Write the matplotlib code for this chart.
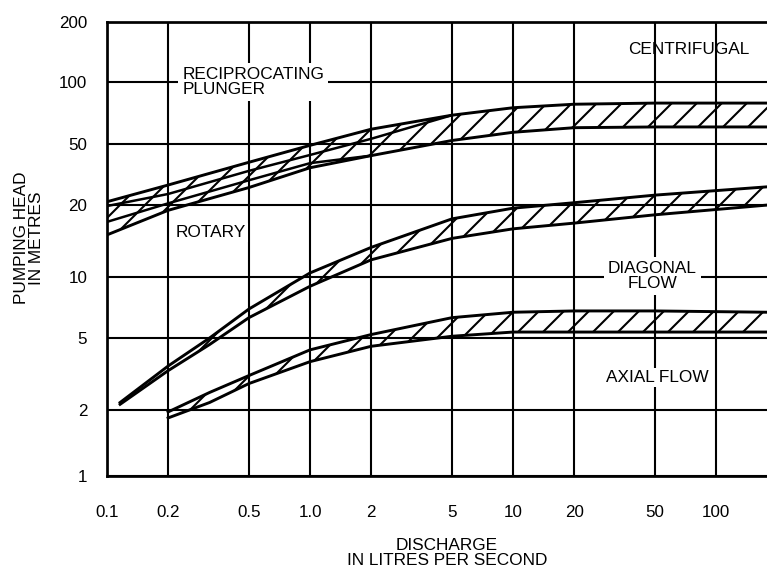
import numpy as np
import matplotlib
matplotlib.use('Agg')
import matplotlib.pyplot as plt
from matplotlib.ticker import FixedLocator, NullLocator

# Axis ticks (discharge in L/s, head in m)
x_ticks = [0.1, 0.2, 0.5, 1, 2, 5, 10, 20, 50, 100]
x_tick_labels = ['0.1', '0.2', '0.5', '1.0', '2', '5', '10', '20', '50', '100']
y_ticks = [1, 2, 5, 10, 20, 50, 100, 200]
y_tick_labels = ['1', '2', '5', '10', '20', '50', '100', '200']

# Reciprocating plunger / rotary band
q_top = [0.1, 0.2, 0.5, 1, 2, 5, 10, 20, 50, 180]
h_top_upper = [21, 27, 38, 49, 59, 69, 75, 78, 79, 79]
h_top_lower = [15, 19, 26, 35, 42, 52, 57, 60, 60.5, 60.5]
q_plunger = [0.1, 0.2, 0.5, 1, 2]
h_plunger_lower = [17, 20.5, 29, 37.5, 42]
q_rotary = [0.1, 0.2, 0.5, 1, 2, 5]
h_rotary_upper = [19.8, 23.6, 33.4, 42.4, 53, 69]

# Diagonal flow band
q_diag = [0.116, 0.2, 0.32, 0.5, 1, 2, 5, 10, 20, 50, 180]
h_diag_upper = [2.2, 3.5, 5.0, 6.95, 10.4, 13.3, 17.5, 19.4, 20.7, 23.2, 26.3]
h_diag_lower = [2.15, 3.3, 4.6, 6.3, 9.0, 11.8, 14.5, 15.9, 16.8, 18.2, 20]

# Axial flow band
q_axial = [0.2, 0.32, 0.5, 1, 2, 5, 10, 20, 50, 180]
h_axial_upper = [1.96, 2.5, 3.1, 4.3, 5.2, 6.3, 6.7, 6.8, 6.8, 6.7]
h_axial_lower = [1.84, 2.2, 2.8, 3.7, 4.5, 5.1, 5.35, 5.35, 5.35, 5.35]

# the printed head axis is not a true log scale, grid rows are uneven
y_rows = [0, 66, 138, 199, 271, 332, 394, 454]


def head_fwd(v):
    return np.interp(np.log10(np.clip(v, 1e-6, None)), np.log10(y_ticks), y_rows)


def head_inv(p):
    return 10 ** np.interp(p, y_rows, np.log10(y_ticks))


plt.rcParams['font.family'] = ['Liberation Sans', 'DejaVu Sans']
plt.rcParams['hatch.linewidth'] = 1.0

DPI = 150
fig = plt.figure(figsize=(767 / DPI, 573 / DPI), dpi=DPI)
ax = fig.add_axes([107 / 767, 97 / 573, 660 / 767, 454 / 573])

ax.set_xscale('log')
ax.set_xlim(0.1, 178)
ax.set_yscale('function', functions=(head_fwd, head_inv))
ax.set_ylim(1, 200)

ax.xaxis.set_major_locator(FixedLocator(x_ticks))
ax.xaxis.set_minor_locator(NullLocator())
ax.set_xticklabels(x_tick_labels)
ax.yaxis.set_major_locator(FixedLocator(y_ticks))
ax.yaxis.set_minor_locator(NullLocator())
ax.set_yticklabels(y_tick_labels)
ax.tick_params(axis='x', length=0, labelsize=8.2, pad=14)
ax.tick_params(axis='y', length=0, labelsize=8.2, pad=9.5)

ax.grid(True, color='black', linewidth=1.0)
ax.set_axisbelow(True)
for side in ['left', 'top', 'bottom']:
    ax.spines[side].set_linewidth(1.3)
ax.spines['right'].set_visible(False)

# hatched bands
bands = [
    (q_top, h_top_lower, h_top_upper),
    (q_diag, h_diag_lower, h_diag_upper),
    (q_axial, h_axial_lower, h_axial_upper),
]
for q, lo, hi in bands:
    ax.fill_between(q, lo, hi, facecolor='none', edgecolor='black',
                    hatch='//', linewidth=0, zorder=2)
    ax.plot(q, lo, color='black', linewidth=1.4, zorder=3)
    ax.plot(q, hi, color='black', linewidth=1.4, zorder=3)

ax.plot(q_plunger, h_plunger_lower, color='black', linewidth=1.2, zorder=3)
ax.plot(q_rotary, h_rotary_upper, color='black', linewidth=1.2, zorder=3)

# labels in the chart
white = dict(facecolor='white', edgecolor='none', pad=2)
ax.text(0.235, 100, 'RECIPROCATING\nPLUNGER', fontsize=8.3, ha='left', va='center',
        linespacing=0.95, bbox=white, zorder=4)
ax.text(0.325, 15.3, 'ROTARY', fontsize=8.3, ha='center', va='center',
        bbox=dict(facecolor='white', edgecolor='none', pad=1), zorder=4)
ax.text(73.6, 145, 'CENTRIFUGAL', fontsize=8.3, ha='center', va='center', zorder=4)
ax.text(48.4, 10.1, 'DIAGONAL\nFLOW', fontsize=8.3, ha='center', va='center',
        linespacing=1.05, bbox=white, zorder=4)
ax.text(51.2, 3.04, 'AXIAL FLOW', fontsize=8.3, ha='center', va='center',
        bbox=dict(facecolor='white', edgecolor='none', pad=1), zorder=4)

fig.text(29 / 767, 1 - 238 / 573, 'PUMPING HEAD\nIN METRES', fontsize=8.3,
         rotation=90, ha='center', va='center', multialignment='center',
         linespacing=1.0)
fig.text(447 / 767, 1 - 553 / 573, 'DISCHARGE\nIN LITRES PER SECOND', fontsize=8.3,
         ha='center', va='center', multialignment='center', linespacing=1.05)

fig.savefig('out.png', dpi=DPI)
